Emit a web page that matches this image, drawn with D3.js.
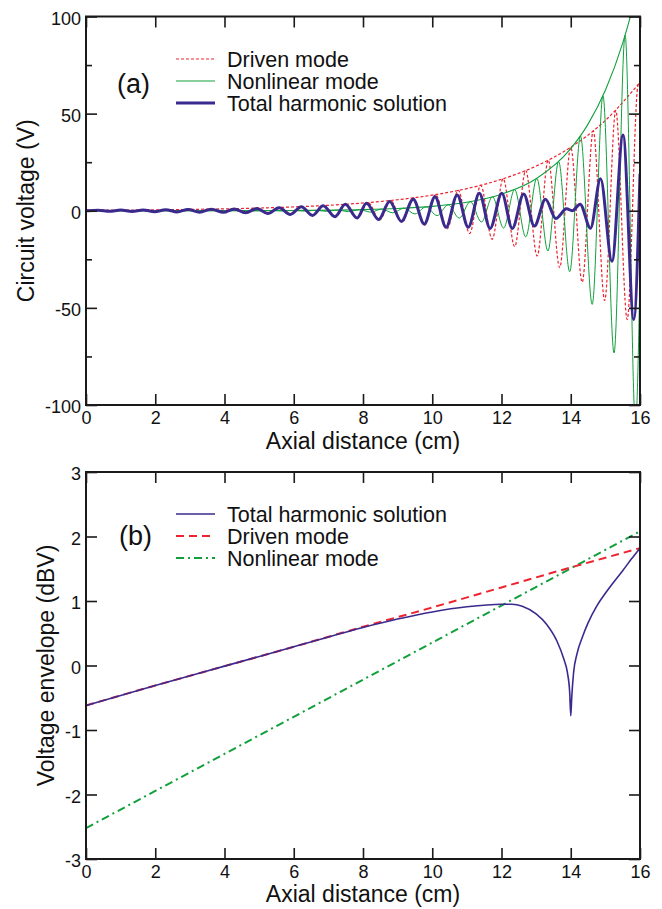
<!DOCTYPE html>
<html><head><meta charset="utf-8">
<script src="https://cdn.jsdelivr.net/npm/d3@7"></script>
<style>body{margin:0;background:#fff} text{font-family:"Liberation Sans",Arial,Helvetica,sans-serif;fill:#111}</style>
</head><body><svg id="c" width="662" height="909"></svg>
<script>
// ---------- Panel (a) data : extrema (x in cm, volts) ----------
const drivenX = [0,0.35,0.68,1.00,1.33,1.65,1.98,2.30,2.63,2.95,3.28,3.60,3.93,4.25,4.58,4.90,5.23,5.55,5.88,6.20,6.53,6.85,7.18,7.50,7.83,8.15,8.48,8.80,9.13,9.45,9.78,10.10,10.43,10.75,11.08,11.40,11.73,12.05,12.38,12.70,13.03,13.35,13.68,14.00,14.33,14.65,14.98,15.30,15.63,15.95,16];
const drivenV = [-0.24,0.27,-0.30,0.34,-0.38,0.43,-0.48,0.54,-0.60,0.68,-0.76,0.85,-0.95,1.07,-1.20,1.34,-1.50,1.68,-1.89,2.12,-2.38,2.66,-2.99,3.34,-3.75,4.2,-4.7,5.3,-5.9,6.6,-7.4,8.3,-9.3,10.5,-11.7,13.1,-14.7,16.5,-18.5,20.7,-23.3,26.1,-29.3,32.7,-36.8,41.1,-46.2,51.7,-56,64.9,64];
const nonlinX = [0,4.70,5.02,5.34,5.66,5.98,6.30,6.62,6.94,7.26,7.58,7.90,8.22,8.54,8.86,9.18,9.50,9.82,10.14,10.46,10.78,11.10,11.42,11.74,12.06,12.38,12.70,13.02,13.34,13.65,13.97,14.28,14.62,14.93,15.25,15.57,15.87,16];
const nonlinV = [0,0.06,-0.08,0.10,-0.13,0.16,-0.20,0.24,-0.30,0.37,-0.46,0.56,-0.70,0.86,-1.06,1.32,-1.63,2.01,-2.48,3.07,-3.8,4.7,-5.8,7.2,-8.9,10.9,-13.5,16.7,-20.7,25.4,-31.4,38.5,-48.2,59.2,-73.2,90.4,-110,-32];
const totalX = [0,0.35,0.68,1.00,1.33,1.65,1.98,2.30,2.63,2.95,3.28,3.62,3.97,4.28,4.61,4.94,5.25,5.58,5.90,6.22,6.54,6.85,7.19,7.49,7.83,8.10,8.45,8.77,9.11,9.45,9.77,10.08,10.40,10.72,11.04,11.36,11.67,12.01,12.31,12.64,12.95,13.27,13.57,13.88,14.04,14.27,14.57,14.86,15.19,15.51,15.82,16];
const totalV = [0,0.27,-0.30,0.34,-0.38,0.43,-0.48,0.54,-0.60,0.68,-0.76,0.8,-0.8,0.95,-1.0,1.15,-1.4,1.55,-1.9,2.1,-2.4,2.6,-3.1,3.3,-3.7,3.9,-4.5,4.7,-5.5,5.9,-6.8,7.2,-8.5,8.1,-8.5,9.0,-9.1,9.0,-9.1,8.6,-7.9,5.9,-4.0,1.0,0.0,3.4,-9.0,16.5,-26,39,-56,19];
// envelopes
const envDrivenX = [0,1,2,3,4,5,6,7,8,9,10,11,12,13,14,15,16];
const envDrivenV = [0.24,0.34,0.48,0.69,0.98,1.39,1.97,2.80,3.98,5.66,8.04,11.4,16.2,23.0,32.7,46.5,66.1];
const envNonlinX = [0,2,4,6,8,9,10,11,12,13,14,14.5,15,15.5,15.75,16];
const envNonlinV = [0.003,0.011,0.043,0.16,0.60,1.17,2.27,4.39,8.5,16.5,32.0,44.6,62.0,86.3,101.8,120.2];

// ---------- Panel (b) data (dBV) ----------
const bDrivenX = [0,2,4,6,8,10,12,14,16];
const bDrivenV = [-0.62,-0.31,-0.01,0.29,0.60,0.90,1.21,1.52,1.82];
const bNonlinX = [0,2,4,6,8,10,12,14,16];
const bNonlinV = [-2.52,-1.945,-1.37,-0.795,-0.22,0.355,0.93,1.505,2.08];
const bTotalX = [0,2,4,6,8,9,10,11,12,12.3,12.6,13,13.3,13.6,13.8,13.9,13.97,14.0,14.03,14.08,14.18,14.35,14.5,14.75,15,15.25,15.5,15.75,16];
const bTotalV = [-0.62,-0.31,-0.01,0.29,0.59,0.72,0.83,0.91,0.95,0.95,0.92,0.80,0.64,0.38,0.10,-0.10,-0.42,-0.78,-0.48,-0.12,0.18,0.46,0.66,0.92,1.12,1.30,1.47,1.65,1.82];

const xTicks = [0,2,4,6,8,10,12,14,16];
const aYTicks = [-100,-50,0,50,100];
const aYMinor = [-75,-25,25,75];
const bYTicks = [-3,-2,-1,0,1,2,3];

const C = {blue:"#3b2a8e", red:"#ec2430", green:"#12a03c", axis:"#1a1a1a"};
const svg = d3.select("#c");
const L = 86, R = 640;
const zip = (xs, vs) => xs.map((x,i)=>[x, vs[i]]);

function panel(top, bottom, yDom, yTicks, yMinor, id){
  const x = d3.scaleLinear().domain([0,16]).range([L,R]);
  const y = d3.scaleLinear().domain(yDom).range([bottom,top]);
  const g = svg.append("g");
  g.append("clipPath").attr("id",id).append("rect").attr("x",L).attr("y",top).attr("width",R-L).attr("height",bottom-top);
  const lines = g.append("g").attr("clip-path",`url(#${id})`);
  const fmt = d => String(d);
  g.append("g").attr("transform",`translate(0,${bottom})`)
    .call(d3.axisBottom(x).tickValues(xTicks).tickSizeInner(-11).tickSizeOuter(0).tickPadding(6).tickFormat(fmt));
  g.append("g").attr("transform",`translate(0,${top})`)
    .call(d3.axisTop(x).tickValues(xTicks).tickSizeInner(-11).tickSizeOuter(0).tickFormat(""));
  const ly = g.append("g").attr("transform",`translate(${L},0)`)
    .call(d3.axisLeft(y).tickValues(yTicks).tickSizeInner(-11).tickSizeOuter(0).tickPadding(5).tickFormat(fmt));
  g.append("g").attr("transform",`translate(${R},0)`)
    .call(d3.axisRight(y).tickValues(yTicks).tickSizeInner(-11).tickSizeOuter(0).tickFormat(""));
  if (yMinor){
    g.append("g").attr("transform",`translate(${L},0)`).call(d3.axisLeft(y).tickValues(yMinor).tickSizeInner(-6).tickSizeOuter(0).tickFormat(""));
    g.append("g").attr("transform",`translate(${R},0)`).call(d3.axisRight(y).tickValues(yMinor).tickSizeInner(-6).tickSizeOuter(0).tickFormat(""));
  }
  g.selectAll(".domain").remove();
  g.selectAll(".tick line").attr("stroke",C.axis).attr("stroke-width",1.6);
  g.selectAll(".tick text").attr("font-size",18).attr("fill","#111").attr("font-family",'"Liberation Sans",Arial,sans-serif');
  ly.selectAll(".tick text").attr("dy","0.42em");
  g.append("rect").attr("x",L).attr("y",top).attr("width",R-L).attr("height",bottom-top)
    .attr("fill","none").attr("stroke",C.axis).attr("stroke-width",2);
  return {x,y,g,lines};
}

// ---------- Panel (a) ----------
const A = panel(16.5, 405, [-100,100], aYTicks, aYMinor, "clipA");
const lineA = d3.line().x(d=>A.x(d[0])).y(d=>A.y(d[1])).curve(d3.curveMonotoneX);
A.lines.append("path").attr("d",lineA(zip(drivenX,drivenV))).attr("fill","none").attr("stroke",C.red).attr("stroke-width",1.2).attr("stroke-dasharray","3,2");
A.lines.append("path").attr("d",lineA(zip(envDrivenX,envDrivenV))).attr("fill","none").attr("stroke",C.red).attr("stroke-width",1.2).attr("stroke-dasharray","3,2");
A.lines.append("path").attr("d",lineA(zip(nonlinX,nonlinV))).attr("fill","none").attr("stroke",C.green).attr("stroke-width",1);
A.lines.append("path").attr("d",lineA(zip(envNonlinX,envNonlinV))).attr("fill","none").attr("stroke",C.green).attr("stroke-width",1.1);
A.lines.append("path").attr("d",lineA(zip(totalX,totalV))).attr("fill","none").attr("stroke",C.blue).attr("stroke-width",3);

const legA = [["Driven mode",C.red,1.2,"3,2"],["Nonlinear mode",C.green,1.1,null],["Total harmonic solution",C.blue,3,null]];
legA.forEach((d,i)=>{
  const yy = 59 + i*22;
  const l = svg.append("line").attr("x1",176).attr("x2",215).attr("y1",yy).attr("y2",yy).attr("stroke",d[1]).attr("stroke-width",d[2]);
  if (d[3]) l.attr("stroke-dasharray",d[3]);
  svg.append("text").attr("x",227).attr("y",yy+7.5).attr("font-size",21.5).text(d[0]);
});
svg.append("text").attr("x",117).attr("y",93).attr("font-size",27).text("(a)");
svg.append("text").attr("x",363).attr("y",448.5).attr("text-anchor","middle").attr("font-size",23).text("Axial distance (cm)");
svg.append("text").attr("transform",`translate(33.5,${(16.5+405)/2}) rotate(-90)`).attr("text-anchor","middle").attr("font-size",23).text("Circuit voltage (V)");

// ---------- Panel (b) ----------
const B = panel(472, 859, [-3,3], bYTicks, null, "clipB");
const lineB = d3.line().x(d=>B.x(d[0])).y(d=>B.y(d[1])).curve(d3.curveMonotoneX);
B.lines.append("path").attr("d",lineB(zip(bNonlinX,bNonlinV))).attr("fill","none").attr("stroke",C.green).attr("stroke-width",2).attr("stroke-dasharray","8,4,2,4");
B.lines.append("path").attr("d",lineB(zip(bDrivenX,bDrivenV))).attr("fill","none").attr("stroke",C.red).attr("stroke-width",2).attr("stroke-dasharray","8,5");
B.lines.append("path").attr("d",lineB(zip(bTotalX,bTotalV))).attr("fill","none").attr("stroke",C.blue).attr("stroke-width",1.6);

const legB = [["Total harmonic solution",C.blue,1.6,null],["Driven mode",C.red,2,"8,5"],["Nonlinear mode",C.green,2,"8,4,2,4"]];
legB.forEach((d,i)=>{
  const yy = 514 + i*22;
  const l = svg.append("line").attr("x1",176).attr("x2",215).attr("y1",yy).attr("y2",yy).attr("stroke",d[1]).attr("stroke-width",d[2]);
  if (d[3]) l.attr("stroke-dasharray",d[3]);
  svg.append("text").attr("x",227).attr("y",yy+7.5).attr("font-size",21.5).text(d[0]);
});
svg.append("text").attr("x",119).attr("y",545).attr("font-size",27).text("(b)");
svg.append("text").attr("x",363).attr("y",902).attr("text-anchor","middle").attr("font-size",23).text("Axial distance (cm)");
svg.append("text").attr("transform",`translate(53.5,${(472+859)/2}) rotate(-90)`).attr("text-anchor","middle").attr("font-size",23).text("Voltage envelope (dBV)");
</script></body></html>
